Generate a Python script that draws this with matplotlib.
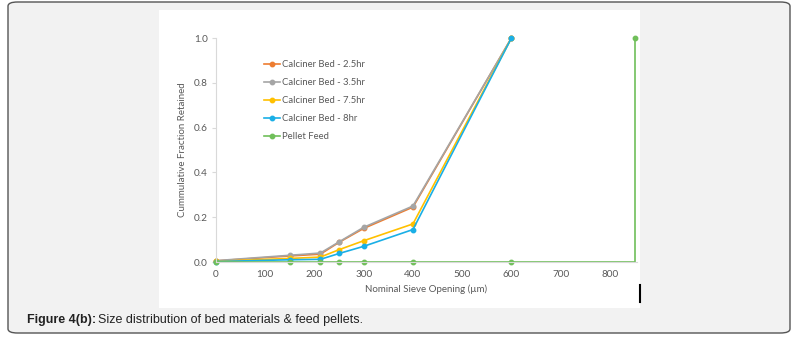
import matplotlib.pyplot as plt
from matplotlib.patches import FancyBboxPatch, Rectangle
from matplotlib.lines import Line2D

plt.rcParams['font.family'] = ['Lato', 'DejaVu Sans']

# sieve openings (um)
sieve = [0, 150, 212, 250, 300, 400, 600]
bed_25 = [0.005, 0.027, 0.035, 0.088, 0.150, 0.245, 1.0]
bed_35 = [0.006, 0.030, 0.040, 0.090, 0.155, 0.250, 1.0]
bed_75 = [0.003, 0.016, 0.022, 0.055, 0.095, 0.170, 1.0]
bed_8 = [0.002, 0.010, 0.012, 0.038, 0.070, 0.145, 1.0]

feed_x = [0, 150, 212, 250, 300, 400, 600, 850, 850]
feed_y = [0, 0, 0, 0, 0, 0, 0, 0, 1.0]
feed_mark = [0, 1, 2, 3, 4, 5, 6, 8]

fig = plt.figure(figsize=(7.96, 3.40), dpi=100)
fig.patch.set_facecolor('white')

# outer rounded frame + white chart panel
fig.patches.append(FancyBboxPatch((8 / 796, 7 / 340), 782 / 796, 331 / 340,
                                  boxstyle='round,pad=0,rounding_size=0.012',
                                  transform=fig.transFigure, facecolor='#f2f2f2',
                                  edgecolor='#555555', linewidth=1.0, zorder=0))
fig.patches.append(Rectangle((159 / 796, 32 / 340), 481 / 796, 298 / 340,
                             transform=fig.transFigure, facecolor='white',
                             edgecolor='none', zorder=1))
fig.lines.append(Line2D([640 / 796, 640 / 796], [38 / 340, 55 / 340],
                        transform=fig.transFigure, color='black', lw=1.5, zorder=3))

ax = fig.add_axes([216 / 796, 78 / 340, 421 / 796, 224 / 340])
ax.set_facecolor('none')
ax.set_zorder(5)

ax.plot(sieve, bed_25, color='#ED7D31', marker='o', ms=3.2, lw=1.2, label='Calciner Bed - 2.5hr', clip_on=False)
ax.plot(sieve, bed_35, color='#A5A5A5', marker='o', ms=3.2, lw=1.2, label='Calciner Bed - 3.5hr', clip_on=False)
ax.plot(sieve, bed_75, color='#FFC000', marker='o', ms=3.2, lw=1.2, label='Calciner Bed - 7.5hr', clip_on=False)
ax.plot(sieve, bed_8, color='#1AAFE6', marker='o', ms=3.2, lw=1.2, label='Calciner Bed - 8hr', clip_on=False)
ax.plot(feed_x, feed_y, color='#70BF5A', marker='o', ms=3.2, lw=1.2,
        markevery=feed_mark, label='Pellet Feed', clip_on=False)

ax.set_xlim(0, 855)
ax.set_ylim(0, 1.0)
ax.set_xticks(range(0, 900, 100))
ax.set_yticks([0, 0.2, 0.4, 0.6, 0.8, 1.0])
ax.set_yticklabels(['0.0', '0.2', '0.4', '0.6', '0.8', '1.0'])
ax.tick_params(axis='both', labelsize=7.2, colors='#595959', length=0, pad=6)
ax.tick_params(axis='y', length=3, color='#d9d9d9', direction='out', pad=3)
for s in ['top', 'right']:
    ax.spines[s].set_visible(False)
ax.spines['left'].set_color('#d9d9d9')
ax.spines['bottom'].set_color('#d9d9d9')

ax.set_xlabel('Nominal Sieve Opening (\u00b5m)', fontsize=7, color='#595959', labelpad=4)
ax.set_ylabel('Cummulative Fraction Retained', fontsize=7, color='#595959', labelpad=5)

leg = ax.legend(loc='upper left', bbox_to_anchor=(0.095, 0.94), frameon=False, fontsize=6.8,
                handlelength=1.6, labelspacing=0.95, handletextpad=0.3)
for t in leg.get_texts():
    t.set_color('#595959')

fig.text(27 / 796, 1 - 320 / 340, 'Figure 4(b):', fontsize=9, fontweight='bold',
         family='Liberation Sans', color='#222222', va='center')
fig.text(98 / 796, 1 - 320 / 340, 'Size distribution of bed materials & feed pellets.',
         fontsize=9, family='Liberation Sans', color='#222222', va='center')

fig.savefig('out.png', dpi=100)
